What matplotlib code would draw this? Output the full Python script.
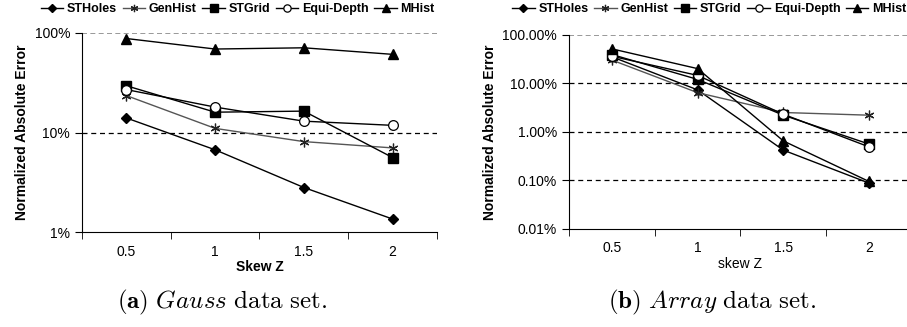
import matplotlib.pyplot as plt
import numpy as np
from matplotlib.ticker import FixedLocator, FixedFormatter

plt.rcParams['font.family'] = ['Liberation Sans', 'DejaVu Sans']
plt.rcParams['mathtext.fontset'] = 'cm'

skew = ["0.5", "1", "1.5", "2"]
methods = ["STHoles", "GenHist", "STGrid", "Equi-Depth", "MHist"]

# errors in percent
gauss_stholes = [14.0, 6.7, 2.8, 1.35]
gauss_genhist = [23.5, 11.0, 8.1, 7.0]
gauss_stgrid = [29.5, 16.0, 16.4, 5.6]
gauss_equi = [27.0, 18.0, 13.0, 11.8]
gauss_mhist = [88.0, 69.0, 71.0, 61.0]

array_stholes = [35.0, 7.3, 0.42, 0.088]
array_genhist = [30.0, 6.4, 2.5, 2.2]
array_stgrid = [39.0, 12.0, 2.2, 0.56]
array_equi = [36.0, 14.5, 2.3, 0.49]
array_mhist = [51.0, 20.0, 0.65, 0.095]

styles = [
    dict(marker='D', color='black', mfc='black', ms=5, lw=1.0),
    dict(marker=(6, 2, 0), color='#555555', mec='#222222', ms=7, lw=1.0, mew=0.9),
    dict(marker='s', color='black', mfc='black', ms=7, lw=1.0),
    dict(marker='o', color='black', mfc='white', ms=7, lw=1.0, mew=0.9),
    dict(marker='^', color='black', mfc='black', ms=7, lw=1.0),
]

fig = plt.figure(figsize=(9.07, 3.27), dpi=100)
ax1 = fig.add_axes([0.0904, 0.2905, 0.3914, 0.6086])
ax2 = fig.add_axes([0.6274, 0.2997, 0.378, 0.5943])

x = np.arange(len(skew))

def setup(ax, data, ylim, yticks, ylabels, xlabel, xbold):
    handles = []
    for d, st in zip(data, styles):
        h, = ax.plot(x, d, **st)
        handles.append(h)
    ax.set_yscale('log')
    ax.set_ylim(*ylim)
    ax.set_xlim(-0.5, 3.5)
    ax.yaxis.set_major_locator(FixedLocator(yticks))
    ax.yaxis.set_major_formatter(FixedFormatter(ylabels))
    ax.yaxis.set_minor_locator(FixedLocator([]))
    ax.set_xticks(x)
    ax.set_xticklabels(skew, fontsize=10)
    ax.tick_params(axis='x', which='major', length=0, pad=9)
    ax.set_xticks(np.arange(-0.5, 4.0, 1.0), minor=True)
    ax.tick_params(axis='x', which='minor', length=5, direction='out')
    ax.tick_params(axis='y', length=5, direction='out', labelsize=10)
    for yv in yticks[1:-1]:
        ax.axhline(yv, color='black', ls=(0, (4, 3)), lw=0.9, zorder=0)
    ax.axhline(yticks[-1], color='#888888', ls=(0, (3, 2)), lw=1.2, zorder=0)
    ax.spines['top'].set_visible(False)
    ax.spines['right'].set_visible(False)
    ax.set_ylabel("Normalized Absolute Error", fontsize=10, fontweight='bold')
    ax.set_xlabel(xlabel, fontsize=10, fontweight='bold' if xbold else 'normal', labelpad=1)
    return handles

h1 = setup(ax1, [gauss_stholes, gauss_genhist, gauss_stgrid, gauss_equi, gauss_mhist],
           (1, 100), [1, 10, 100], ["1%", "10%", "100%"], "Skew Z", True)
h2 = setup(ax2, [array_stholes, array_genhist, array_stgrid, array_equi, array_mhist],
           (0.01, 100), [0.01, 0.1, 1, 10, 100],
           ["0.01%", "0.10%", "1.00%", "10.00%", "100.00%"], "skew Z", False)

for hs, cx in [(h1, 0.262), (h2, 0.782)]:
    fig.legend(hs, methods, loc='center', bbox_to_anchor=(cx, 0.972), ncol=5,
               frameon=False, handlelength=1.8, handletextpad=0.3, columnspacing=0.45,
               prop=dict(size=9, weight='bold'), markerscale=0.75)

fig.text(0.245, 0.075, r"$\mathbf{(a)}\ \mathit{Gauss}\ \mathrm{data\ set.}$", ha='center',
         va='center', fontsize=18)
fig.text(0.785, 0.075, r"$\mathbf{(b)}\ \mathit{Array}\ \mathrm{data\ set.}$", ha='center',
         va='center', fontsize=18)

fig.savefig("out.png", dpi=100)
